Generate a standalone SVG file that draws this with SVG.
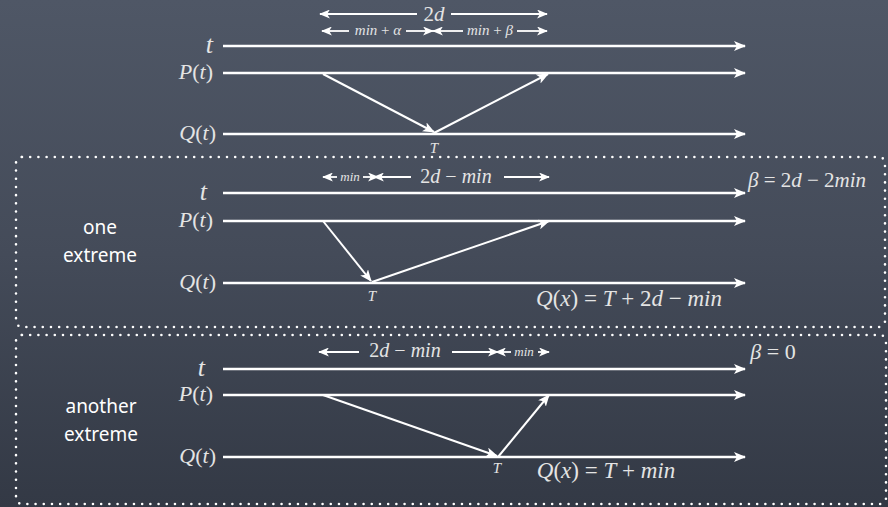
<svg xmlns="http://www.w3.org/2000/svg" width="888" height="507" viewBox="0 0 888 507">
<defs>
<linearGradient id="bg" x1="0" y1="0" x2="0" y2="1">
<stop offset="0" stop-color="#4f5766"/>
<stop offset="0.5" stop-color="#444b59"/>
<stop offset="1" stop-color="#333945"/>
</linearGradient>
<marker id="ah" viewBox="0 0 12 10" refX="11" refY="5" markerWidth="12" markerHeight="10" markerUnits="userSpaceOnUse" orient="auto-start-reverse">
<path d="M0,0 L12,5 L0,10 L3,5 z" fill="#ffffff"/>
</marker>
<marker id="ahs" viewBox="0 0 12 10" refX="11" refY="5" markerWidth="11" markerHeight="9" markerUnits="userSpaceOnUse" orient="auto-start-reverse">
<path d="M0,0 L12,5 L0,10 L3,5 z" fill="#ffffff"/>
</marker>
</defs>
<style>
.tl{stroke:#ffffff;stroke-width:2.5;fill:none;marker-end:url(#ah)}
.msg{stroke:#ffffff;stroke-width:2;fill:none;marker-end:url(#ah)}
.dl{stroke:#ffffff;stroke-width:1.8;fill:none;marker-end:url(#ahs)}
.dls{stroke:#ffffff;stroke-width:1.8;fill:none;marker-start:url(#ahs)}
.box{fill:none;stroke:#ffffff;stroke-width:2.6;stroke-dasharray:0 8.2;stroke-linecap:round}
.m{font-family:"Liberation Serif","DejaVu Serif",serif;fill:#e4e4e4}
.i{font-style:italic}
.lab{font-family:"Noto Sans","Open Sans",sans-serif;fill:#ffffff;font-size:19px;text-anchor:middle}
</style>
<rect width="888" height="507" fill="url(#bg)"/>

<g id="boxes">
<rect class="box" x="16" y="157" width="869" height="170" rx="6"/>
<rect class="box" x="16" y="335" width="870" height="169" rx="6"/>
</g>

<g id="connectors">
<!-- section 1 -->
<line class="tl" x1="223" y1="46" x2="745" y2="46"/>
<line class="tl" x1="223" y1="73" x2="745" y2="73"/>
<line class="tl" x1="223" y1="134" x2="745" y2="134"/>
<line class="msg" x1="323" y1="74" x2="434" y2="132"/>
<line class="msg" x1="434" y1="133" x2="548" y2="74"/>
<line class="dls" x1="320" y1="14" x2="417" y2="14"/>
<line class="dl" x1="451" y1="14" x2="547" y2="14"/>
<line class="dls" x1="322" y1="31" x2="349" y2="31"/>
<line class="dl" x1="406" y1="31" x2="433" y2="31"/>
<line class="dls" x1="433" y1="31" x2="463" y2="31"/>
<line class="dl" x1="517" y1="31" x2="547" y2="31"/>
<!-- section 2 -->
<line class="tl" x1="223" y1="193" x2="745" y2="193"/>
<line class="tl" x1="223" y1="221" x2="745" y2="221"/>
<line class="tl" x1="223" y1="283" x2="745" y2="283"/>
<line class="msg" x1="323" y1="221" x2="371" y2="281"/>
<line class="msg" x1="372" y1="282" x2="549" y2="221"/>
<line class="dls" x1="323" y1="177" x2="337" y2="177"/>
<line class="dl" x1="363" y1="177" x2="378" y2="177"/>
<line class="dls" x1="374" y1="177" x2="411" y2="177"/>
<line class="dl" x1="504" y1="177" x2="549" y2="177"/>
<!-- section 3 -->
<line class="tl" x1="223" y1="369" x2="745" y2="369"/>
<line class="tl" x1="223" y1="395" x2="745" y2="395"/>
<line class="tl" x1="223" y1="457" x2="745" y2="457"/>
<line class="msg" x1="323" y1="395" x2="497" y2="456"/>
<line class="msg" x1="498" y1="457" x2="549" y2="395"/>
<line class="dls" x1="319" y1="352" x2="359" y2="352"/>
<line class="dl" x1="452" y1="352" x2="498" y2="352"/>
<line class="dls" x1="496" y1="352" x2="511" y2="352"/>
<line class="dl" x1="538" y1="352" x2="549" y2="352"/>
</g>

<g id="section1">
<text class="m i" x="213" y="53" font-size="26" text-anchor="end">t</text>
<text class="m" x="213" y="79" font-size="22" text-anchor="end"><tspan class="i">P</tspan>(<tspan class="i">t</tspan>)</text>
<text class="m" x="216" y="140" font-size="22" text-anchor="end"><tspan class="i">Q</tspan>(<tspan class="i">t</tspan>)</text>
<text class="m i" x="434" y="153" font-size="15" text-anchor="middle">T</text>
<text class="m" x="434" y="21" font-size="21" text-anchor="middle">2<tspan class="i">d</tspan></text>
<text class="m" x="378" y="35" font-size="15" text-anchor="middle"><tspan class="i">min</tspan> + <tspan class="i">α</tspan></text>
<text class="m" x="490" y="35" font-size="15" text-anchor="middle"><tspan class="i">min</tspan> + <tspan class="i">β</tspan></text>
</g>

<g id="section2">
<text class="lab" x="100" y="234">one</text>
<text class="lab" x="100" y="262">extreme</text>
<text class="m i" x="207" y="200" font-size="26" text-anchor="end">t</text>
<text class="m" x="213" y="227" font-size="22" text-anchor="end"><tspan class="i">P</tspan>(<tspan class="i">t</tspan>)</text>
<text class="m" x="216" y="289" font-size="22" text-anchor="end"><tspan class="i">Q</tspan>(<tspan class="i">t</tspan>)</text>
<text class="m i" x="372" y="301" font-size="15" text-anchor="middle">T</text>
<text class="m i" x="350" y="181" font-size="13" text-anchor="middle">min</text>
<text class="m" x="456" y="183" font-size="20" text-anchor="middle">2<tspan class="i">d</tspan> − <tspan class="i">min</tspan></text>
<text class="m" x="807" y="187" font-size="21" text-anchor="middle"><tspan class="i">β</tspan> = 2<tspan class="i">d</tspan> − 2<tspan class="i">min</tspan></text>
<text class="m" x="629" y="306" font-size="23" text-anchor="middle"><tspan class="i">Q</tspan>(<tspan class="i">x</tspan>) = <tspan class="i">T</tspan> + 2<tspan class="i">d</tspan> − <tspan class="i">min</tspan></text>
</g>

<g id="section3">
<text class="lab" x="101" y="413">another</text>
<text class="lab" x="101" y="441">extreme</text>
<text class="m i" x="205" y="376" font-size="26" text-anchor="end">t</text>
<text class="m" x="213" y="401" font-size="22" text-anchor="end"><tspan class="i">P</tspan>(<tspan class="i">t</tspan>)</text>
<text class="m" x="216" y="463" font-size="22" text-anchor="end"><tspan class="i">Q</tspan>(<tspan class="i">t</tspan>)</text>
<text class="m i" x="497" y="473" font-size="15" text-anchor="middle">T</text>
<text class="m" x="405" y="357" font-size="20" text-anchor="middle">2<tspan class="i">d</tspan> − <tspan class="i">min</tspan></text>
<text class="m i" x="524" y="356" font-size="13" text-anchor="middle">min</text>
<text class="m" x="773" y="359" font-size="22" text-anchor="middle"><tspan class="i">β</tspan> = 0</text>
<text class="m" x="606" y="478" font-size="23" text-anchor="middle"><tspan class="i">Q</tspan>(<tspan class="i">x</tspan>) = <tspan class="i">T</tspan> + <tspan class="i">min</tspan></text>
</g>
</svg>
